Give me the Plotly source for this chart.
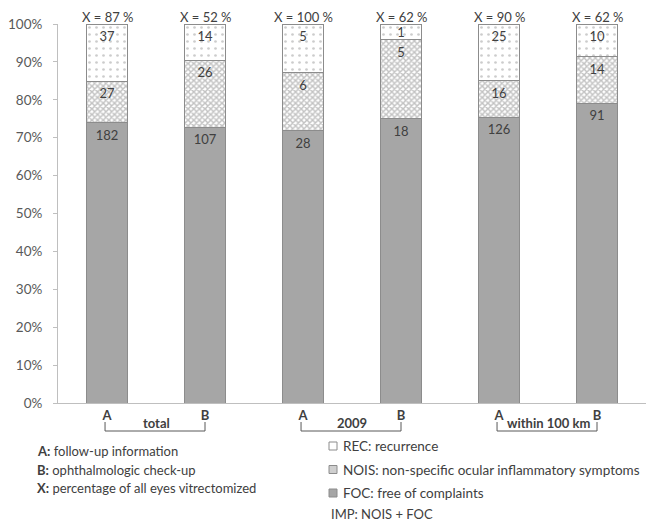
import plotly.graph_objects as go

# ---- data ----
bar_ids = ["total A", "total B", "2009 A", "2009 B", "100km A", "100km B"]
bar_letters = ["A", "B", "A", "B", "A", "B"]
groups = ["total", "2009", "within 100 km"]
foc = [182, 107, 28, 18, 126, 91]
nois = [27, 26, 6, 5, 16, 14]
rec = [37, 14, 5, 1, 25, 10]
x_pct = ["87", "52", "100", "62", "90", "62"]
y_ticks = [0, 10, 20, 30, 40, 50, 60, 70, 80, 90, 100]
y_ticktext = [f"{v}%" for v in y_ticks]

left_notes = [("A:", " follow-up information"),
              ("B:", " ophthalmologic check-up"),
              ("X:", " percentage of all eyes vitrectomized")]
legend_items = ["REC: recurrence",
                "NOIS: non-specific ocular inflammatory symptoms",
                "FOC: free of complaints"]
imp_note = "IMP: NOIS + FOC"

# ---- layout geometry (pixels) ----
W, H = 647, 521
L, R, T, B = 58, 1, 24, 118
PW, PH = W - L - R, H - T - B

def px_x(px):
    return (px - L) / PW

def px_y(py):
    return (H - B - py) / PH

FONT = "Lato, 'Open Sans', sans-serif"
TXT = "#404040"
EDGE = "#8c8c8c"
FOC_COL = "#a6a6a6"

xs = list(range(len(bar_ids)))

fig = go.Figure()
fig.add_trace(go.Bar(
    x=xs, y=foc, name="FOC",
    marker=dict(color=FOC_COL, line=dict(color=EDGE, width=1)),
))
fig.add_trace(go.Bar(
    x=xs, y=nois, name="NOIS",
    marker=dict(color="white", line=dict(color=EDGE, width=1),
                pattern=dict(shape="x", size=4, solidity=0.6,
                             fgcolor="#858585", bgcolor="white")),
))
fig.add_trace(go.Bar(
    x=xs, y=rec, name="REC",
    marker=dict(color="white", line=dict(color=EDGE, width=1),
                pattern=dict(shape=".", size=7, solidity=0.12,
                             fgcolor="#9a9a9a", bgcolor="white")),
))
fig.update_traces(showlegend=False, width=0.41, hoverinfo="skip")

# segment count labels, placed near the top of each segment (percent scale)
px_per_pct = PH / 100.0
lab_x, lab_y, lab_t = [], [], []
for i in xs:
    tot = foc[i] + nois[i] + rec[i]
    cum = 0.0
    for v in (foc[i], nois[i], rec[i]):
        seg = v / tot * 100
        cum += seg
        drop = min(14 / px_per_pct, max(seg / 2, 10 / px_per_pct))
        lab_x.append(i)
        lab_y.append(cum - drop)
        lab_t.append(str(v))
fig.add_trace(go.Scatter(
    x=lab_x, y=lab_y, text=lab_t, mode="text", textposition="middle center",
    textfont=dict(family=FONT, size=13, color=TXT),
    showlegend=False, hoverinfo="skip", cliponaxis=False,
))

annotations = []
# X = .. labels above bars
for i, p in enumerate(x_pct):
    annotations.append(dict(x=i, y=1, xref="x", yref="paper", yanchor="bottom",
                            text=f"X = {p} %", showarrow=False, yshift=-2.5,
                            font=dict(family=FONT, size=13, color=TXT)))

shapes = []
# group brackets and labels
y_top, y_bot = px_y(422), px_y(431)
for g, name in enumerate(groups):
    a, b = 2 * g - 0.02, 2 * g + 1.0
    shapes.append(dict(type="path", xref="x", yref="paper",
                       path=f"M {a},{y_top} L {a},{y_bot} L {b},{y_bot} L {b},{y_top}",
                       line=dict(color="#595959", width=1)))
    annotations.append(dict(x=2 * g + 0.5, y=px_y(423), xref="x", yref="paper",
                            yanchor="middle", text=f"<b>{name}</b>", showarrow=False,
                            font=dict(family=FONT, size=13, color=TXT)))

# left notes
for k, (lab, rest) in enumerate(left_notes):
    annotations.append(dict(x=px_x(35), y=px_y(451 + k * 18.5), xref="paper", yref="paper",
                            xanchor="left", yanchor="middle", showarrow=False,
                            text=f"<b>{lab}</b>{rest}",
                            font=dict(family=FONT, size=13, color=TXT)))

# right legend
sw_fill = ["white", "#cfcfcf", FOC_COL]
for k, item in enumerate(legend_items):
    cy = 446 + k * 23.5
    shapes.append(dict(type="rect", xref="paper", yref="paper",
                       x0=px_x(329), x1=px_x(337), y0=px_y(cy - 4), y1=px_y(cy + 4),
                       fillcolor=sw_fill[k], line=dict(color=EDGE, width=1)))
    annotations.append(dict(x=px_x(341), y=px_y(cy), xref="paper", yref="paper",
                            xanchor="left", yanchor="middle", showarrow=False,
                            text=item, font=dict(family=FONT, size=13.5, color=TXT)))
annotations.append(dict(x=px_x(329), y=px_y(513.5), xref="paper", yref="paper",
                        xanchor="left", yanchor="middle", showarrow=False,
                        text=imp_note, font=dict(family=FONT, size=13, color=TXT)))

fig.update_layout(
    width=W, height=H, margin=dict(l=L, r=R, t=T, b=B, pad=0),
    barmode="stack", barnorm="percent",
    plot_bgcolor="white", paper_bgcolor="white",
    font=dict(family=FONT, size=13, color=TXT),
    xaxis=dict(range=[-0.5, len(bar_ids) - 0.5], tickvals=xs,
               ticktext=[f"<b>{t}</b>" for t in bar_letters],
               tickfont=dict(family=FONT, size=13, color=TXT),
               showline=True, linecolor="#bfbfbf", linewidth=1,
               ticks="", showgrid=False, zeroline=False, fixedrange=True),
    yaxis=dict(range=[0, 100], tickmode="array", tickvals=y_ticks, ticktext=y_ticktext,
               tickfont=dict(family=FONT, size=13.5, color="#595959"),
               showline=True, linecolor="#bfbfbf", linewidth=1,
               ticks="outside", ticklen=4, tickcolor="#bfbfbf",
               ticklabelstandoff=8,
               showgrid=False, zeroline=False, fixedrange=True),
    annotations=annotations, shapes=shapes,
    showlegend=False, hovermode=False,
)

fig.write_html("out.html", config={"displayModeBar": False},
               post_script="document.body.style.margin='0px';document.body.style.overflow='hidden';")
